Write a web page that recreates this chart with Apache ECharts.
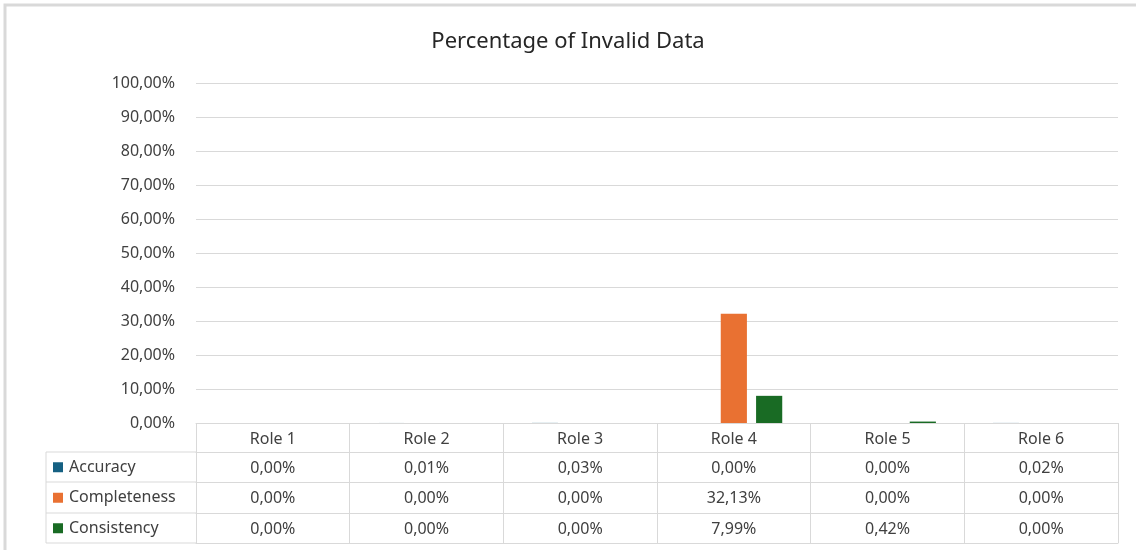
<!DOCTYPE html>
<html>
<head>
<meta charset="utf-8">
<script src="https://cdn.jsdelivr.net/npm/echarts@6/dist/echarts.min.js"></script>
<style>
  html, body { margin: 0; padding: 0; background: #fff; }
  #main { width: 1136px; height: 550px; }
</style>
</head>
<body>
<div id="main"></div>
<script>
var roles = ['Role 1', 'Role 2', 'Role 3', 'Role 4', 'Role 5', 'Role 6'];
var seriesNames = ['Accuracy', 'Completeness', 'Consistency'];
// values in percent
var accuracy = [0.00, 0.01, 0.03, 0.00, 0.00, 0.02];
var completeness = [0.00, 0.00, 0.00, 32.13, 0.00, 0.00];
var consistency = [0.00, 0.00, 0.00, 7.99, 0.42, 0.00];
var colors = ['#156082', '#E97132', '#196B24'];

var font = 'Noto Sans';
var lineCol = '#d9d9d9';
var textCol = '#404040';

function pct(v) {
    return v.toFixed(2).replace('.', ',') + '%';
}

// one bottom axis per table row, labels are the row values
function rowAxis(values, offset) {
    return {
        type: 'category',
        position: 'bottom',
        offset: offset,
        data: roles,
        axisLine: { show: true, lineStyle: { color: lineCol } },
        axisTick: { show: false },
        axisLabel: {
            show: values != null,
            margin: 8,
            fontFamily: font,
            fontSize: 16,
            color: textCol,
            formatter: function (v, i) { return values ? pct(values[i]) : ''; }
        }
    };
}

var myChart = echarts.init(document.getElementById('main'));

var option = {
    color: colors,
    animation: false,
    title: {
        text: 'Percentage of Invalid Data',
        left: 'center',
        top: 26,
        textStyle: { fontFamily: font, fontSize: 22, fontWeight: 'normal', color: '#262626' }
    },
    legend: {
        orient: 'vertical',
        left: 53,
        top: 452,
        padding: 0,
        itemWidth: 10,
        itemHeight: 10,
        itemGap: 0,
        icon: 'rect',
        data: seriesNames,
        textStyle: { fontFamily: font, fontSize: 16, color: textCol, lineHeight: 30.5, padding: [0, 0, 0, 1] }
    },
    grid: {
        left: 196,
        right: 18,
        top: 83,
        bottom: 127
    },
    xAxis: [
        {
            type: 'category',
            data: roles,
            axisLine: { show: true, lineStyle: { color: lineCol } },
            axisTick: { show: true, length: 120, lineStyle: { color: lineCol } },
            axisLabel: { margin: 8, fontFamily: font, fontSize: 16, color: textCol }
        },
        rowAxis(accuracy, 29),
        rowAxis(completeness, 59),
        rowAxis(consistency, 90),
        rowAxis(null, 120)
    ],
    yAxis: {
        type: 'value',
        min: 0,
        max: 100,
        interval: 10,
        axisLine: { show: false },
        axisTick: { show: false },
        splitLine: { lineStyle: { color: lineCol } },
        axisLabel: {
            margin: 21,
            fontFamily: font,
            fontSize: 16,
            color: textCol,
            formatter: function (v) { return pct(v); }
        }
    },
    graphic: [
        {
            type: 'rect',
            shape: { x: 5, y: 5, width: 1140, height: 560 },
            style: { fill: 'none', stroke: '#d9d9d9', lineWidth: 3 },
            silent: true
        },
        {
            type: 'polyline',
            shape: { points: [[196, 452], [46, 452], [46, 543], [196, 543]] },
            style: { fill: 'none', stroke: lineCol, lineWidth: 1 },
            silent: true
        },
        {
            type: 'line',
            shape: { x1: 46, y1: 482, x2: 196, y2: 482 },
            style: { stroke: lineCol, lineWidth: 1 },
            silent: true
        },
        {
            type: 'line',
            shape: { x1: 46, y1: 513, x2: 196, y2: 513 },
            style: { stroke: lineCol, lineWidth: 1 },
            silent: true
        }
    ],
    series: [
        { name: seriesNames[0], type: 'bar', barGap: '35%', barCategoryGap: '37%', data: accuracy },
        { name: seriesNames[1], type: 'bar', barGap: '35%', barCategoryGap: '37%', data: completeness },
        { name: seriesNames[2], type: 'bar', barGap: '35%', barCategoryGap: '37%', data: consistency }
    ]
};

myChart.setOption(option);
</script>
</body>
</html>
